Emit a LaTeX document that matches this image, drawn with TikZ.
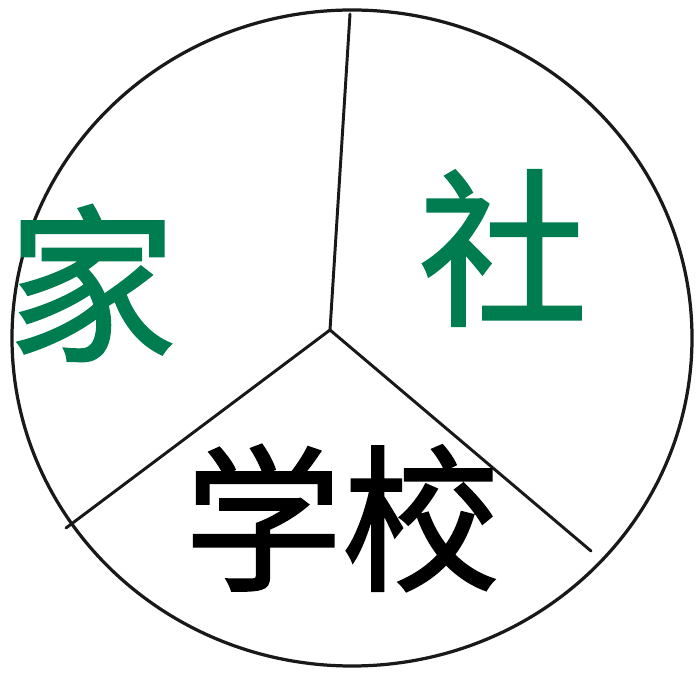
\documentclass[tikz,border=0pt]{standalone}
\usepackage{fontspec}
\newfontfamily\cjk{Noto Sans CJK SC}[FakeBold=1.5]
\usepackage{tikz}
\usetikzlibrary{calc,positioning}
\usepackage{xcolor}
\definecolor{inkgreen}{RGB}{0,125,80}

\tikzset{
  rim/.style={line width=2.3pt, black!90},
  spoke/.style={line width=2.1pt, black!90, line cap=round},
  bigchar/.style={font=\cjk\fontsize{120}{120}\selectfont, inner sep=0pt},
  midchar/.style={font=\cjk\fontsize{112}{112}\selectfont, inner sep=0pt}
}

\begin{document}
\begin{tikzpicture}[x=0.025cm, y=-0.025cm]
\useasboundingbox (0,0) rectangle (696,674);
% cerchio
\draw[rim] (352,338) ellipse [x radius=340, y radius=328];
% centro e tre raggi
\coordinate (hub) at (330,330);
\coordinate (top) at (350,14);
\coordinate (sw) at (66,528);
\coordinate (se) at (591,551);
\foreach \e in {top,sw,se}{
  \draw[spoke] (hub) -- (\e);
}
% scritte
\node[bigchar, text=inkgreen] (jia) at (92,283) {家};
\node[bigchar, text=inkgreen] (she) at (503,248) {社};
\node[midchar, text=black] (xuexiao) at (342,518) {学校};
\end{tikzpicture}
\end{document}
